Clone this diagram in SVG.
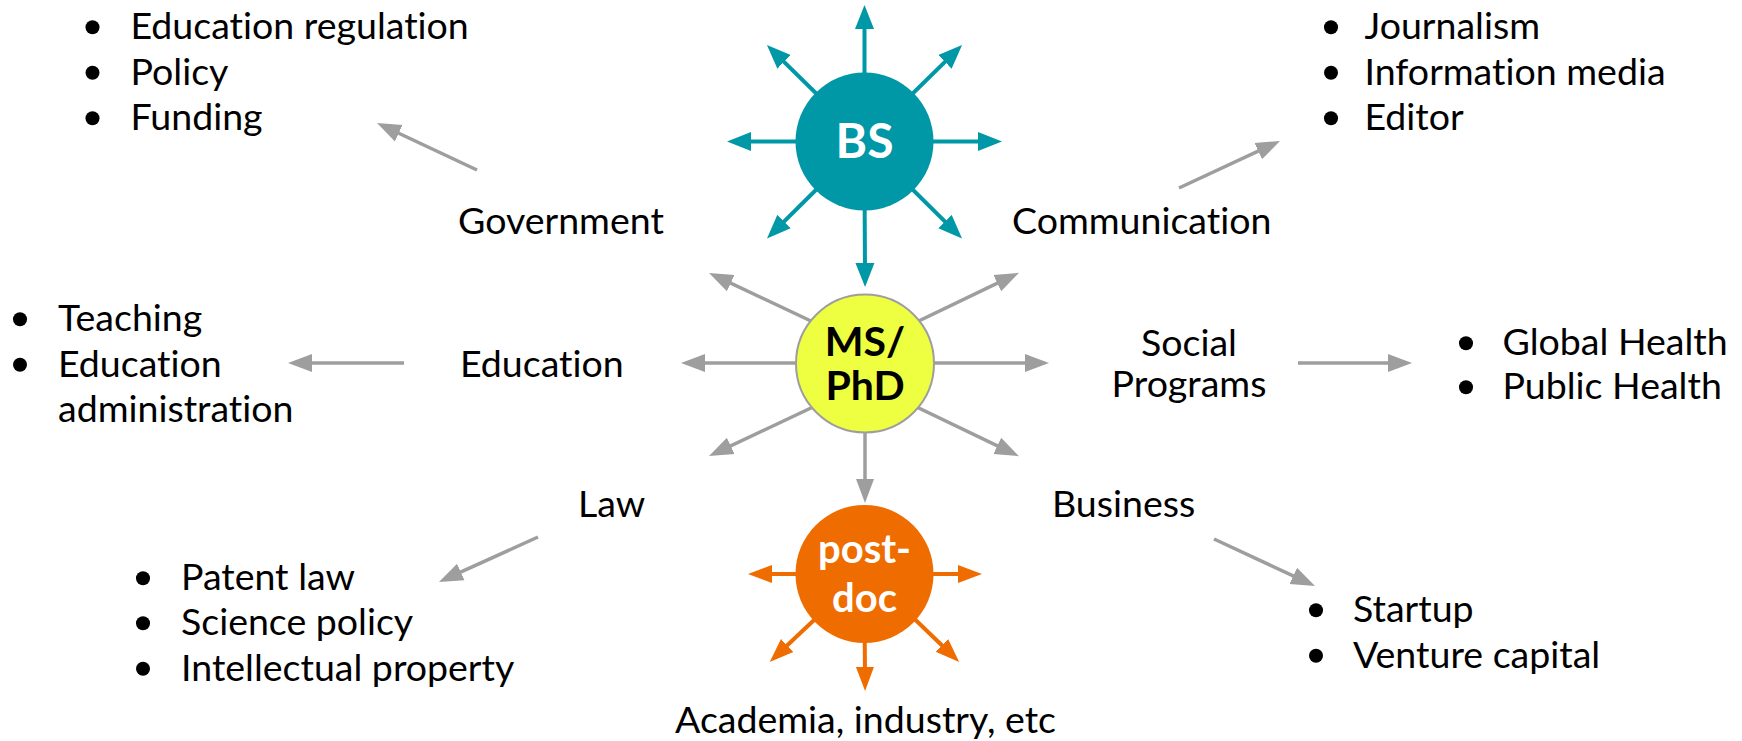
<svg xmlns="http://www.w3.org/2000/svg" width="1742" height="741" viewBox="0 0 1742 741">
  <style>
    text { font-family: Lato, "Open Sans", "Liberation Sans", sans-serif; fill: #000; font-variant-ligatures: none; }
    .lbl { font-size: 37.5px; }
    .mid { text-anchor: middle; }
    .hub { font-weight: bold; text-anchor: middle; }
    .dot { fill: #000; }
    .c-teal { stroke: #0097a7; stroke-width: 4; fill: none; }
    .c-grey { stroke: #9e9e9e; stroke-width: 3.5; fill: none; }
    .c-orange { stroke: #ef6c00; stroke-width: 4; fill: none; }
  </style>
  <defs>
    <!-- arrowheads: tip sits 14px beyond the end of the line -->
    <marker id="ah-teal" markerUnits="userSpaceOnUse" markerWidth="26" markerHeight="20" refX="10" refY="10" orient="auto">
      <path d="M0,0.5 L24,10 L0,19.5 Z" fill="#0097a7"/>
    </marker>
    <marker id="ah-grey" markerUnits="userSpaceOnUse" markerWidth="26" markerHeight="20" refX="10" refY="10" orient="auto">
      <path d="M0,1 L24,10 L0,19 Z" fill="#9e9e9e"/>
    </marker>
    <marker id="ah-orange" markerUnits="userSpaceOnUse" markerWidth="26" markerHeight="20" refX="10" refY="10" orient="auto">
      <path d="M0,1 L24,10 L0,19 Z" fill="#ef6c00"/>
    </marker>
  </defs>

  <rect width="1742" height="741" fill="#fff"/>

  <g id="connectors">
    <!-- BS rays -->
    <g class="c-teal" marker-end="url(#ah-teal)">
      <line x1="864.5" y1="100" x2="864.5" y2="19"/>
      <line x1="864.5" y1="180" x2="865" y2="273"/>
      <line x1="830" y1="141.5" x2="741" y2="141.5"/>
      <line x1="900" y1="141.5" x2="988" y2="141.5"/>
      <line x1="900" y1="106" x2="952.1" y2="54.9"/>
      <line x1="829" y1="106" x2="776.9" y2="54.9"/>
      <line x1="900" y1="177" x2="952.1" y2="228.6"/>
      <line x1="829" y1="177" x2="776.9" y2="228.6"/>
    </g>
    <!-- MS/PhD rays -->
    <g class="c-grey" marker-end="url(#ah-grey)">
      <line x1="830" y1="330" x2="721.7" y2="278.9"/>
      <line x1="900" y1="330" x2="1006.3" y2="278.9"/>
      <line x1="830" y1="399" x2="721.7" y2="450.1"/>
      <line x1="900" y1="399" x2="1006.3" y2="450.1"/>
      <line x1="830" y1="363" x2="695" y2="363"/>
      <line x1="900" y1="363" x2="1035" y2="363"/>
      <line x1="865" y1="420" x2="865" y2="489"/>
    </g>
    <!-- branch arrows to the lists -->
    <g class="c-grey" marker-end="url(#ah-grey)">
      <line x1="477" y1="170" x2="389.7" y2="129"/>
      <line x1="1179" y1="188" x2="1267.3" y2="146.9"/>
      <line x1="404" y1="363" x2="302" y2="363"/>
      <line x1="1298" y1="363" x2="1398" y2="363"/>
      <line x1="538" y1="537" x2="451.7" y2="576.2"/>
      <line x1="1214" y1="539" x2="1302.3" y2="580.1"/>
    </g>
    <!-- post-doc rays -->
    <g class="c-orange" marker-end="url(#ah-orange)">
      <line x1="830" y1="574" x2="762" y2="574"/>
      <line x1="900" y1="574" x2="968" y2="574"/>
      <line x1="830" y1="605" x2="779.9" y2="652.3"/>
      <line x1="900" y1="605" x2="949.1" y2="652.3"/>
      <line x1="864.5" y1="610" x2="865" y2="677"/>
    </g>
  </g>

  <g id="node-bs">
    <circle cx="864.5" cy="141.5" r="69" fill="#0097a7"/>
    <text class="hub" x="864.5" y="158" font-size="48" style="fill:#fff">BS</text>
  </g>

  <g id="node-msphd">
    <circle cx="865" cy="363.5" r="69" fill="#eeff41" stroke="#9e9e9e" stroke-width="2"/>
    <text class="hub" font-size="41"><tspan x="865" y="356">MS/</tspan><tspan x="865" y="400">PhD</tspan></text>
  </g>

  <g id="node-postdoc">
    <circle cx="864.5" cy="574" r="69" fill="#ef6c00"/>
    <text class="hub" font-size="40" style="fill:#fff"><tspan x="864.5" y="563">post-</tspan><tspan x="864.5" y="612">doc</tspan></text>
  </g>

  <g id="node-government">
    <text class="lbl" x="458" y="234">Government</text>
  </g>
  <g id="node-communication">
    <text class="lbl" x="1012" y="234">Communication</text>
  </g>
  <g id="node-education">
    <text class="lbl" x="460" y="376.5">Education</text>
  </g>
  <g id="node-social">
    <text class="lbl mid"><tspan x="1189" y="355.5">Social</tspan><tspan x="1189" y="397">Programs</tspan></text>
  </g>
  <g id="node-law">
    <text class="lbl" x="578" y="517">Law</text>
  </g>
  <g id="node-business">
    <text class="lbl" x="1052" y="517">Business</text>
  </g>
  <g id="node-academia">
    <text class="lbl mid" x="865.5" y="733">Academia, industry, etc</text>
  </g>

  <g id="list-government">
    <circle class="dot" cx="92.5" cy="27.3" r="7"/>
    <circle class="dot" cx="92.5" cy="72.8" r="7"/>
    <circle class="dot" cx="92.5" cy="118.3" r="7"/>
    <text class="lbl" x="130.5" y="39">Education regulation</text>
    <text class="lbl" x="130.5" y="84.5">Policy</text>
    <text class="lbl" x="130.5" y="130">Funding</text>
  </g>

  <g id="list-communication">
    <circle class="dot" cx="1331" cy="27.3" r="7"/>
    <circle class="dot" cx="1331" cy="72.8" r="7"/>
    <circle class="dot" cx="1331" cy="118.3" r="7"/>
    <text class="lbl" x="1364.5" y="39">Journalism</text>
    <text class="lbl" x="1364.5" y="84.5">Information media</text>
    <text class="lbl" x="1364.5" y="130">Editor</text>
  </g>

  <g id="list-education">
    <circle class="dot" cx="20" cy="319.3" r="7"/>
    <circle class="dot" cx="20" cy="364.8" r="7"/>
    <text class="lbl" x="58" y="331">Teaching</text>
    <text class="lbl" x="58" y="376.5">Education</text>
    <text class="lbl" x="58" y="422">administration</text>
  </g>

  <g id="list-social">
    <circle class="dot" cx="1466" cy="343.3" r="7"/>
    <circle class="dot" cx="1466" cy="387.3" r="7"/>
    <text class="lbl" x="1502.5" y="355">Global Health</text>
    <text class="lbl" x="1502.5" y="399">Public Health</text>
  </g>

  <g id="list-law">
    <circle class="dot" cx="143" cy="578.3" r="7"/>
    <circle class="dot" cx="143" cy="623.3" r="7"/>
    <circle class="dot" cx="143" cy="668.8" r="7"/>
    <text class="lbl" x="181" y="590">Patent law</text>
    <text class="lbl" x="181" y="635">Science policy</text>
    <text class="lbl" x="181" y="680.5">Intellectual property</text>
  </g>

  <g id="list-business">
    <circle class="dot" cx="1316" cy="610.3" r="7"/>
    <circle class="dot" cx="1316" cy="655.8" r="7"/>
    <text class="lbl" x="1353" y="622">Startup</text>
    <text class="lbl" x="1353" y="667.5">Venture capital</text>
  </g>
</svg>
